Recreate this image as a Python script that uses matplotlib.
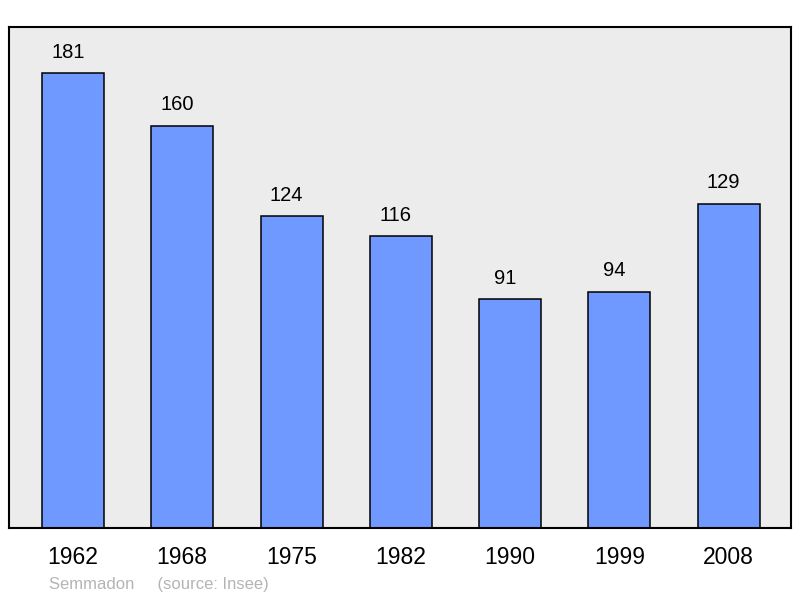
import matplotlib.pyplot as plt
import numpy as np

plt.rcParams['font.family'] = ['Liberation Sans', 'DejaVu Sans']

# Population by census year
years = ['1962', '1968', '1975', '1982', '1990', '1999', '2008']
population = [181, 160, 124, 116, 91, 94, 129]

fig = plt.figure(figsize=(8, 5.98), dpi=100)
ax = fig.add_axes([9 / 800, 1 - 528 / 598, 782 / 800, 501 / 598])
ax.set_facecolor('#ececec')

x = np.arange(len(years))
ax.bar(x, population, width=0.567, color='#7099ff', edgecolor='black', linewidth=1.1)

for xi, v in zip(x, population):
    ax.annotate(str(v), (xi - 0.046, v), xytext=(0, 21), textcoords='offset pixels',
                ha='center', va='center', fontsize=14.5)

ax.set_xlim(-0.585, 6.57)
ax.set_ylim(0, 199.3)
ax.set_xticks(x)
ax.set_xticklabels(years, fontsize=16.5)
ax.tick_params(axis='x', length=0, pad=13)
ax.set_yticks([])
for s in ax.spines.values():
    s.set_linewidth(1.5)

fig.text(49 / 800, 1 - 584 / 598, 'Semmadon     (source: Insee)', color='#b4b4b4',
         fontsize=12, va='center', ha='left')

fig.savefig('out.png', dpi=100)
